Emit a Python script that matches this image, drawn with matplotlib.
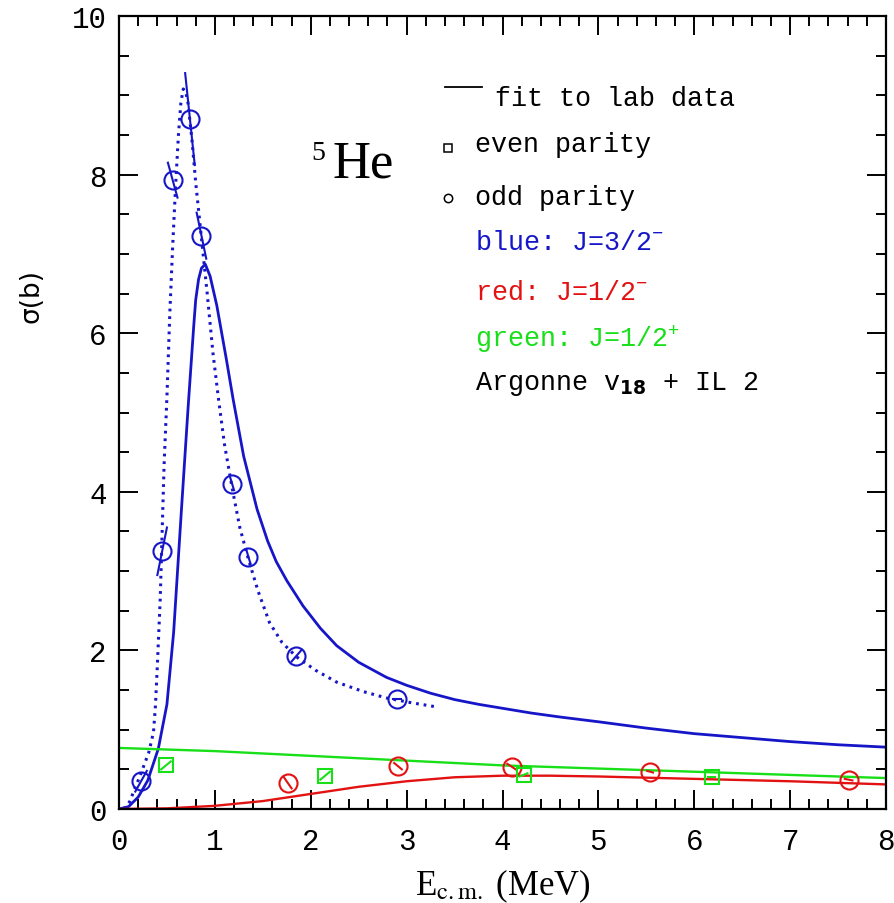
import matplotlib
matplotlib.use("Agg")
import matplotlib.pyplot as plt
import numpy as np

plt.rcParams['mathtext.fontset'] = 'custom'
plt.rcParams['mathtext.rm'] = 'Liberation Mono'
plt.rcParams['mathtext.it'] = 'Liberation Mono'
plt.rcParams['mathtext.bf'] = 'DejaVu Sans:bold'

BLUE = '#1616c8'
RED = '#e31212'
GREEN = '#18e018'

# ---- data ----
# J=3/2- fit to lab data (solid blue)
fit_x = [0.0, 0.1, 0.2, 0.3, 0.41, 0.5, 0.57, 0.65, 0.72, 0.76, 0.78, 0.80, 0.83,
         0.86, 0.90, 0.95, 1.02, 1.12, 1.19, 1.30, 1.44, 1.55, 1.64, 1.75, 1.92,
         2.1, 2.27, 2.5, 2.79, 3.0, 3.25, 3.5, 3.75, 4.0, 4.3, 4.6, 5.0, 5.5,
         6.0, 6.5, 7.0, 7.5, 8.0]
fit_y = [0.0, 0.03, 0.15, 0.36, 0.76, 1.32, 2.23, 3.75, 5.05, 5.75, 6.10, 6.42, 6.68,
         6.82, 6.87, 6.72, 6.35, 5.67, 5.17, 4.45, 3.78, 3.38, 3.12, 2.88, 2.56,
         2.28, 2.06, 1.85, 1.66, 1.56, 1.46, 1.38, 1.32, 1.27, 1.21, 1.16, 1.10, 1.02,
         0.95, 0.90, 0.85, 0.81, 0.78]

# J=3/2- calculation curve (dotted blue)
calc_x = [0.05, 0.11, 0.22, 0.31, 0.36, 0.38, 0.40, 0.43, 0.45, 0.47, 0.50, 0.53,
          0.56, 0.59, 0.62, 0.645, 0.67, 0.695, 0.72, 0.76, 0.80, 0.86, 0.92, 0.98,
          1.04, 1.10, 1.18, 1.26, 1.35, 1.45, 1.57, 1.70, 1.85, 2.05, 2.27, 2.55,
          2.79, 3.05, 3.30]
calc_y = [0.0, 0.09, 0.42, 0.71, 0.97, 1.30, 1.81, 2.65, 3.49, 4.33, 5.20, 6.25,
          7.10, 7.85, 8.50, 8.90, 9.08, 9.05, 8.90, 8.45, 7.90, 7.20, 6.50, 5.75,
          5.15, 4.60, 4.05, 3.55, 3.15, 2.75, 2.35, 2.10, 1.92, 1.75, 1.60, 1.48,
          1.40, 1.34, 1.29]

# J=1/2- fit (red) and J=1/2+ fit (green)
red_x = [0.0, 0.5, 1.0, 1.5, 2.0, 2.5, 3.0, 3.5, 4.0, 4.5, 5.0, 6.0, 7.0, 8.0]
red_y = [0.0, 0.008, 0.04, 0.10, 0.19, 0.28, 0.35, 0.40, 0.42, 0.42, 0.41, 0.38, 0.35, 0.31]
green_x = [0, 1, 2, 3, 4, 5, 6, 7, 8]
green_y = [0.77, 0.73, 0.67, 0.61, 0.55, 0.51, 0.47, 0.43, 0.39]

# calculated points with short error segments (dx, dy)
blue_px = [0.23, 0.45, 0.56, 0.74, 0.86, 1.18, 1.35, 1.85, 2.90]
blue_py = [0.35, 3.25, 7.93, 8.70, 7.23, 4.10, 3.18, 1.93, 1.39]
blue_dx = [0.06, 0.05, 0.05, 0.05, 0.05, 0.02, 0.02, 0.05, 0.04]
blue_dy = [-0.13, -0.30, 0.22, 0.58, 0.29, 0.08, 0.08, -0.07, 0.0]

red_px = [1.76, 2.91, 4.10, 5.54, 7.61]
red_py = [0.33, 0.54, 0.53, 0.47, 0.37]
red_dx = [0.04, 0.04, 0.05, 0.03, 0.04]
red_dy = [0.07, 0.04, 0.04, 0.01, 0.01]

green_px = [0.49, 2.15, 4.22, 6.18]
green_py = [0.55, 0.42, 0.43, 0.40]
green_dx = [0.05, 0.05, 0.04, 0.04]
green_dy = [-0.05, -0.05, -0.02, 0.0]

x_ticks = [0, 1, 2, 3, 4, 5, 6, 7, 8]
y_ticks = [0, 2, 4, 6, 8, 10]

legend_lines = [
    ("blue: J=3/2$^{-}$", BLUE),
    ("red: J=1/2$^{-}$", RED),
    ("green: J=1/2$^{+}$", GREEN),
    ("Argonne v$_{\\mathbf{18}}$ + IL 2", 'black'),
]

# ---- figure ----
fig = plt.figure(figsize=(8.94, 9.04), dpi=100)
ax = fig.add_axes([119/894, 1-810/904, 767/894, 793/904])

ax.plot(fit_x, fit_y, color=BLUE, lw=2.0, solid_joinstyle='round')
ax.plot(calc_x, calc_y, color=BLUE, lw=2.2, linestyle=(0, (0.9, 1.6)))
ax.plot(red_x, red_y, color=RED, lw=1.7)
ax.plot(green_x, green_y, color=GREEN, lw=1.7)

def points(px, py, dx, dy, color, marker, ms):
    for x, y, ex, ey in zip(px, py, dx, dy):
        ax.plot([x - ex, x + ex], [y + ey, y - ey], color=color, lw=1.5)
    ax.plot(px, py, linestyle='none', marker=marker, ms=ms, mfc='none',
            mec=color, mew=1.5)

points(blue_px, blue_py, blue_dx, blue_dy, BLUE, 'o', 13)
points(red_px, red_py, red_dx, red_dy, RED, 'o', 13)
points(green_px, green_py, green_dx, green_dy, GREEN, 's', 10.5)

ax.set_xlim(0, 8)
ax.set_ylim(0, 10)
ax.set_xticks(x_ticks)
ax.set_yticks(y_ticks)
ax.set_xticks(np.arange(0, 8.01, 0.2), minor=True)
ax.set_yticks(np.arange(0, 10.01, 0.5), minor=True)
ax.tick_params(which='both', direction='in', top=True, right=True, width=1.4)
ax.tick_params(which='major', length=14)
ax.tick_params(which='minor', length=7)
ax.tick_params(axis='x', which='major', pad=13)
ax.tick_params(axis='y', which='major', pad=9)
for s in ax.spines.values():
    s.set_linewidth(1.6)
for lab in ax.get_xticklabels():
    lab.set_fontfamily('Liberation Mono')
    lab.set_fontsize(21)
for lab in ax.get_yticklabels():
    lab.set_fontfamily('Liberation Mono')
    lab.set_fontsize(21)

ax.set_xlabel(r'E$_{\mathrm{c.m.}}$ (MeV)', fontfamily='Liberation Serif',
              fontsize=25, math_fontfamily='stix', labelpad=8)
ax.set_ylabel('σ(b)', fontfamily='DejaVu Sans', fontsize=19)
ax.yaxis.set_label_coords(-0.097, (810 - 296) / 793)

# nucleus label
def fx(p):
    return (p - 119) / 767

def fy(p):
    return (810 - p) / 793

T = ax.transAxes
ax.text(fx(333), fy(177), 'He', transform=T, fontfamily='Liberation Serif',
        fontsize=38, ha='left', va='baseline')
ax.text(fx(311), fy(160), '5', transform=T, fontfamily='Liberation Serif',
        fontsize=20, ha='left', va='baseline')

# legend (drawn as text)
mono = 'Liberation Mono'
fs = 19.3
ax.plot([fx(445), fx(482)], [fy(88), fy(88)], transform=T, color='black', lw=1.3)
ax.text(fx(495), fy(105.7), 'fit to lab data', transform=T, fontfamily=mono,
        fontsize=fs, va='baseline')
ax.plot([fx(448)], [fy(148.5)], transform=T, marker='s', ms=5.5, mfc='none',
        mec='black', mew=1.1)
ax.text(fx(475), fy(151.7), 'even parity', transform=T, fontfamily=mono,
        fontsize=fs, va='baseline')
ax.plot([fx(447.5)], [fy(198.5)], transform=T, marker='o', ms=6, mfc='none',
        mec='black', mew=1.1)
ax.text(fx(475), fy(205), 'odd parity', transform=T, fontfamily=mono,
        fontsize=fs, va='baseline')
baselines = [250, 300, 346.7, 390]
for (txt, col), b in zip(legend_lines, baselines):
    ax.text(fx(475), fy(b), txt, transform=T, fontfamily=mono, fontsize=fs,
            color=col, va='baseline', math_fontfamily='custom')

fig.savefig('out.png', dpi=100)
